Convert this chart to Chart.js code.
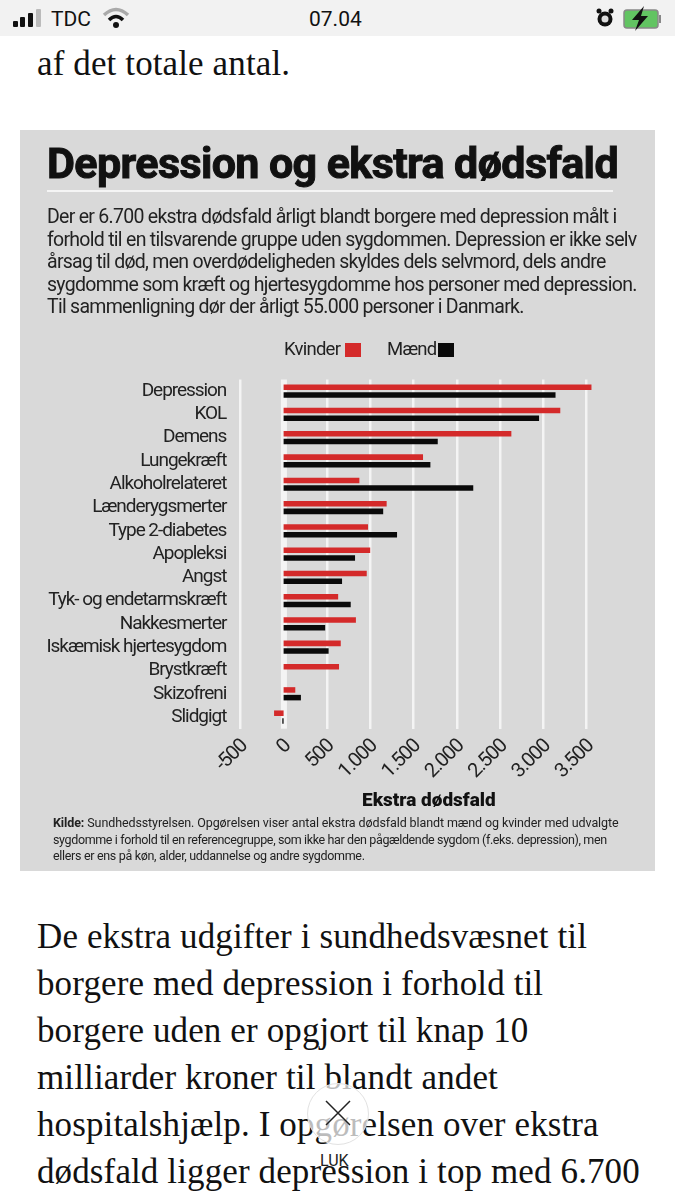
<!DOCTYPE html>
<html lang="da">
<head>
<meta charset="utf-8">
<title>Depression og ekstra dødsfald</title>
<script src="https://cdn.jsdelivr.net/npm/chart.js@4"></script>
<style>
    html, body { margin: 0; padding: 0; background: #fff; }
    body { width: 675px; height: 1200px; position: relative; overflow: hidden; }
    .abs { position: absolute; white-space: nowrap; }

    /* status bar */
    #statusbar { position: absolute; left: 0; top: 0; width: 675px; height: 36px; background: #f2f2f2; }
    .status { font-family: Roboto, sans-serif; font-size: 21px; color: #111; line-height: 24px; top: 7px; }

    /* article text */
    .body-text { font-family: "Liberation Serif", serif; font-size: 35px; line-height: 40px; letter-spacing: 0.12px; color: #111; left: 37px; }

    /* graphic panel */
    #panel { position: absolute; left: 20px; top: 130px; width: 635px; height: 741px; background: #d9d9d9; }
    #chart { position: absolute; left: 0; top: 0; }
    #title { font-family: Roboto, sans-serif; font-weight: 700; font-size: 43px; line-height: 44px; letter-spacing: -0.6px; color: #111; left: 27px; top: 11px; -webkit-text-stroke: 1px #111; }
    #rule { position: absolute; left: 27px; top: 60px; width: 566px; height: 2px; background: #f5f5f5; }
    .intro { font-family: Roboto, sans-serif; font-size: 19.5px; line-height: 24px; letter-spacing: -0.72px; color: #222; left: 27px; }
    .legend { font-family: Roboto, sans-serif; font-size: 18.5px; line-height: 22px; color: #222; top: 208px; letter-spacing: -0.75px; }
    .swatch { position: absolute; top: 213px; width: 16px; height: 14px; }
    #axis-title { font-family: Roboto, sans-serif; font-weight: 900; font-size: 19px; line-height: 20px; color: #111; left: 342px; top: 660px; }
    .source { font-family: Roboto, sans-serif; font-size: 12.5px; line-height: 16px; color: #222; left: 33px; }

    /* close button */
    #close { position: absolute; left: 307px; top: 1083px; width: 60px; height: 60px; border-radius: 50%; background: rgba(255,255,255,0.72); border: 1px solid #e2e2e2; }
    #luk { font-family: Roboto, sans-serif; font-size: 16px; line-height: 18px; color: #222; left: 320px; top: 1152px; }
</style>
</head>
<body>

<div id="statusbar"></div>
<svg class="abs" style="left:0;top:0" width="675" height="36">
    <rect x="13" y="21" width="5" height="6" rx="1" fill="#111"/>
    <rect x="20" y="17" width="5" height="10" rx="1" fill="#111"/>
    <rect x="28" y="13" width="5" height="14" rx="1" fill="#111"/>
    <rect x="36" y="9" width="5" height="18" rx="1" fill="#bbb"/>
    <path d="M104 15 Q116 4 128 15" fill="none" stroke="#aaa" stroke-width="3.5"/>
    <path d="M109 20 Q116 13 123 20" fill="none" stroke="#111" stroke-width="3.5"/>
    <circle cx="116" cy="25" r="3" fill="#111"/>
    <circle cx="605" cy="19" r="7.5" fill="#111"/>
    <circle cx="605" cy="19" r="3.5" fill="#ddd"/>
    <circle cx="599" cy="11" r="2.5" fill="#111"/>
    <circle cx="611" cy="11" r="2.5" fill="#111"/>
    <rect x="624" y="10" width="34" height="18" rx="3" fill="#62c462" stroke="#888" stroke-width="1.5"/>
    <rect x="659" y="15" width="2" height="8" fill="#888"/>
    <path d="M644 6 L632 20 L639 20 L635 31 L648 16 L641 16 Z" fill="#111"/>
</svg>
<div class="abs status" style="left:51px">TDC</div>
<div class="abs status" style="left:309px">07.04</div>

<div class="abs body-text" style="top:44px">af det totale antal.</div>

<div id="panel">
    <canvas id="chart" width="635" height="741"></canvas>
    <div class="abs" id="title">Depression og ekstra dødsfald</div>
    <div id="rule"></div>
    <div class="abs intro" style="top:75px">Der er 6.700 ekstra dødsfald årligt blandt borgere med depression målt i</div>
    <div class="abs intro" style="top:98px">forhold til en tilsvarende gruppe uden sygdommen. Depression er ikke selv</div>
    <div class="abs intro" style="top:120px">årsag til død, men overdødeligheden skyldes dels selvmord, dels andre</div>
    <div class="abs intro" style="top:143px">sygdomme som kræft og hjertesygdomme hos personer med depression.</div>
    <div class="abs intro" style="top:165px">Til sammenligning dør der årligt 55.000 personer i Danmark.</div>
    <div class="abs legend" style="left:264px">Kvinder</div>
    <div class="swatch" style="left:325px;background:#d42a2a"></div>
    <div class="abs legend" style="left:367px">Mænd</div>
    <div class="swatch" style="left:418px;background:#0a0a0a"></div>
    <div class="abs" id="axis-title">Ekstra dødsfald</div>
    <div class="abs source" style="top:685px;letter-spacing:-0.1px"><b>Kilde:</b> Sundhedsstyrelsen. Opgørelsen viser antal ekstra dødsfald blandt mænd og kvinder med udvalgte</div>
    <div class="abs source" style="top:702px;letter-spacing:-0.37px">sygdomme i forhold til en referencegruppe, som ikke har den pågældende sygdom (f.eks. depression), men</div>
    <div class="abs source" style="top:718px;letter-spacing:-0.32px">ellers er ens på køn, alder, uddannelse og andre sygdomme.</div>
</div>

<div class="abs body-text" style="top:917px">De ekstra udgifter i sundhedsvæsnet til</div>
<div class="abs body-text" style="top:964px">borgere med depression i forhold til</div>
<div class="abs body-text" style="top:1011px">borgere uden er opgjort til knap 10</div>
<div class="abs body-text" style="top:1058px">milliarder kroner til blandt andet</div>
<div class="abs body-text" style="top:1105px">hospitalshjælp. I opgørelsen over ekstra</div>
<div class="abs body-text" style="top:1152px">dødsfald ligger depression i top med 6.700</div>

<div id="close"></div>
<svg class="abs" style="left:320px;top:1095px" width="36" height="36">
    <path d="M6 6 L30 30 M30 6 L6 30" stroke="#222" stroke-width="1.5"/>
</svg>
<div class="abs" id="luk">LUK</div>

<script>
// data
const categories = [
    "Depression", "KOL", "Demens", "Lungekræft", "Alkoholrelateret",
    "Lænderygsmerter", "Type 2-diabetes", "Apopleksi", "Angst",
    "Tyk- og endetarmskræft", "Nakkesmerter", "Iskæmisk hjertesygdom",
    "Brystkræft", "Skizofreni", "Slidgigt"
];
const kvinder = [3555, 3195, 2630, 1610, 875, 1190, 975, 1000, 960, 630, 835, 660, 640, 135, -110];
const maend = [3140, 2950, 1780, 1695, 2190, 1150, 1310, 825, 675, 775, 480, 520, null, 200, -15];
const xTickLabels = ["-500", "0", "500", "1.000", "1.500", "2.000", "2.500", "3.000", "3.500"];

const labelFont = "Roboto, sans-serif";

// the original uses a condensed face, so tighten the canvas text a little
const narrowText = {
    id: "narrowText",
    beforeDraw(chart) {
        chart.ctx.letterSpacing = "-1.05px";
    }
};

// wide white band at zero. Chart.js moves the bars off a thick grid line, so it is drawn here instead
const zeroBand = {
    id: "zeroBand",
    beforeDatasetsDraw(chart) {
        const { ctx, chartArea, scales } = chart;
        ctx.save();
        ctx.fillStyle = "#f4f4f4";
        ctx.fillRect(scales.x.getPixelForValue(0) - 2.7, chartArea.top, 6, chartArea.height);
        ctx.restore();
    }
};

new Chart(document.getElementById("chart"), {
    type: "bar",
    plugins: [narrowText, zeroBand],
    data: {
        labels: categories,
        datasets: [
            { label: "Kvinder", data: kvinder, backgroundColor: "#d42a2a", clip: false },
            { label: "Mænd", data: maend, backgroundColor: "#0a0a0a", clip: false }
        ]
    },
    options: {
        indexAxis: "y",
        responsive: false,
        animation: false,
        categoryPercentage: 0.66,
        barPercentage: 0.72,
        layout: { padding: { top: 249.5, right: 68.3, left: 0, bottom: 0 } },
        plugins: {
            legend: { display: false },
            tooltip: { enabled: false }
        },
        scales: {
            x: {
                min: -500,
                max: 3500,
                ticks: {
                    stepSize: 500,
                    minRotation: 45,
                    maxRotation: 45,
                    padding: 6,
                    labelOffset: 4,
                    color: "#222",
                    font: { family: labelFont, size: 20 },
                    callback: (value, index) => xTickLabels[index]
                },
                grid: {
                    color: "#f4f4f4",
                    lineWidth: (ctx) => (ctx.tick && ctx.tick.value === 0 ? 0 : 2.5),
                    drawTicks: false
                },
                border: { display: false },
                afterFit: (scale) => { scale.height = 142.3; }
            },
            y: {
                ticks: {
                    autoSkip: false,
                    padding: 6,
                    color: "#222",
                    font: { family: labelFont, size: 19 }
                },
                grid: { display: false },
                border: { display: false },
                afterFit: (scale) => { scale.width = 220.3; }
            }
        }
    }
});
</script>
</body>
</html>
